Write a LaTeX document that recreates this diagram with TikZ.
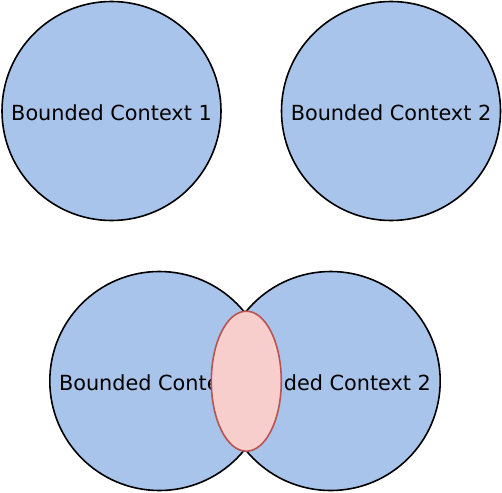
\documentclass[tikz,border=0pt]{standalone}
\usepackage{fontspec}
\setmainfont{DejaVu Sans}
\usetikzlibrary{shapes.geometric}
\definecolor{ctxblue}{HTML}{A9C4EB}
\definecolor{shpink}{HTML}{F8CECC}
\definecolor{shred}{HTML}{B85450}
\tikzset{
  ctx/.style={circle, draw=black, fill=ctxblue, line width=1.6pt, minimum size=219pt, inner sep=0pt, font=\fontsize{20.8}{24}\selectfont},
  ctxlabel/.style={inner sep=0pt, font=\fontsize{20.8}{24}\selectfont, yshift=-1.8pt},
  shared/.style={ellipse, draw=shred, fill=shpink, line width=1.6pt, minimum width=70pt, minimum height=140pt, inner sep=0pt}
}
\begin{document}
\begin{tikzpicture}[x=1pt,y=-1pt]
\useasboundingbox (0,0) rectangle (502,492);
\node[ctx] (a) at (111.5,111) {};
\node[ctxlabel] (al) at (a.center) {Bounded Context 1};
\node[ctx] (b) at (391,111) {};
\node[ctxlabel] (bl) at (b.center) {Bounded Context 2};
\node[ctx] (c) at (159.3,381) {};
\node[ctxlabel] (cl) at (c.center) {Bounded Context 1};
\node[ctx] (d) at (330.7,381) {};
\node[ctxlabel] (dl) at (d.center) {Bounded Context 2};
\node[shared] (e) at (246.3,381.2) {};
\end{tikzpicture}
\end{document}
